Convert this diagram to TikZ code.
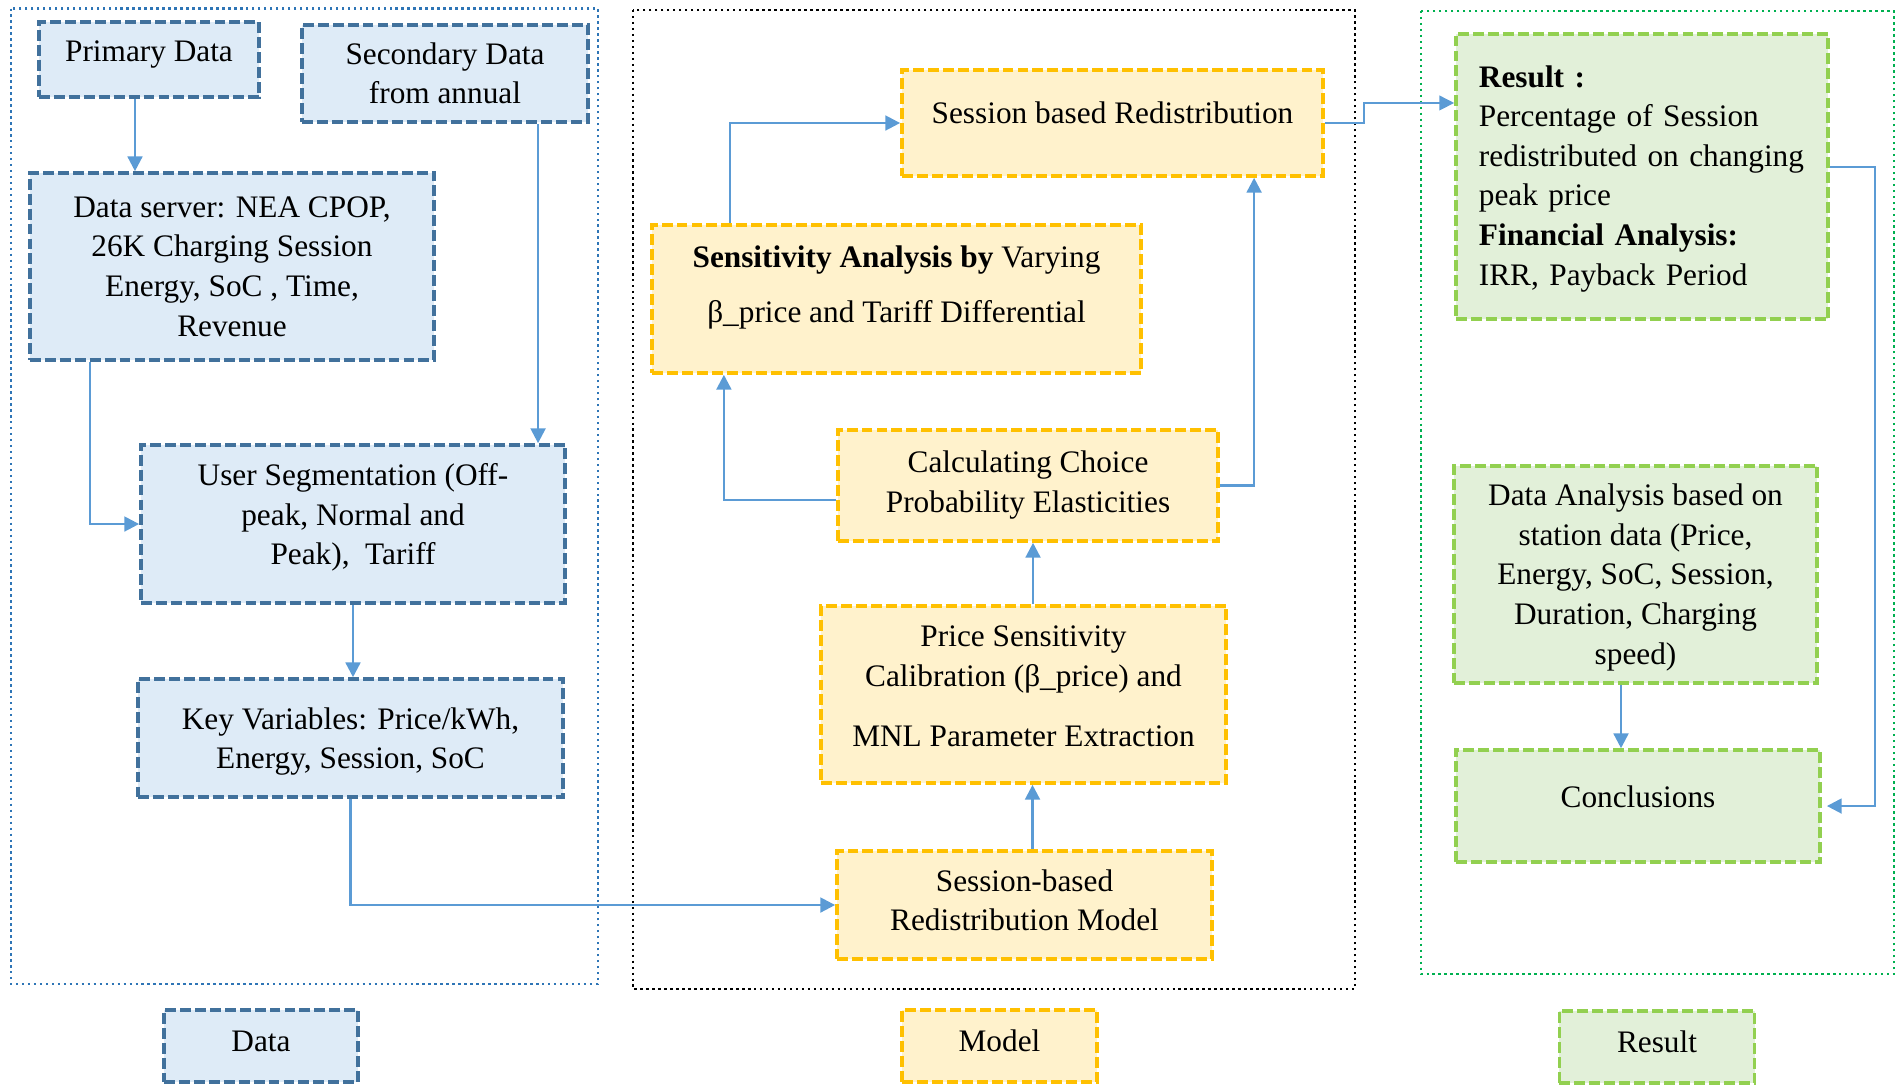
\documentclass[tikz,border=0pt]{standalone}
\usepackage{fontspec}
\setmainfont{Liberation Serif}
\usetikzlibrary{arrows.meta}

\definecolor{dataline}{RGB}{65,113,156}
\definecolor{datafill}{RGB}{222,235,247}
\definecolor{modelline}{RGB}{255,192,0}
\definecolor{modelfill}{RGB}{255,242,204}
\definecolor{resline}{RGB}{146,208,80}
\definecolor{resfill}{RGB}{226,240,217}
\definecolor{flowblue}{RGB}{91,155,213}
\definecolor{frameblue}{RGB}{46,117,182}
\definecolor{framegreen}{RGB}{0,176,80}

\begin{document}
\begin{tikzpicture}[x=0.01cm, y=-0.01cm, font=\fontsize{8.9}{11.25}\selectfont,
  blk/.style={draw, line width=1pt, dash pattern=on 3.1pt off 1.15pt, align=center},
  databox/.style={blk, draw=dataline, fill=datafill},
  modelbox/.style={blk, draw=modelline, fill=modelfill},
  resbox/.style={blk, draw=resline, fill=resfill},
  frame/.style={line width=0.6pt, dash pattern=on 0.7pt off 1pt},
  arr/.style={draw=flowblue, line width=0.7pt, -{Triangle[length=4.2pt,width=4.2pt]}},
  arrthin/.style={arr, line width=0.4pt}]
  \useasboundingbox (0,0) rectangle (1901,1084);

  % group frames
  \draw[frame, frameblue] (11,8.5) rectangle (598,984);
  \draw[frame, black] (633,10) rectangle (1355,989);
  \draw[frame, framegreen] (1421,11) rectangle (1894,974);

  % data column
  \node[databox, minimum width=2.2cm, minimum height=0.75cm, text depth=0.16cm] (prim) at (149,59.5) {Primary Data};
  \node[databox, minimum width=2.86cm, minimum height=0.97cm] (sec) at (445,73.5) {Secondary Data\\from annual};
  \node[databox, minimum width=4.04cm, minimum height=1.87cm] (server) at (232,266.5)
    {Data server: NEA CPOP,\\26K Charging Session\\Energy, SoC , Time,\\Revenue};
  \node[databox, minimum width=4.24cm, minimum height=1.58cm, text depth=0.2cm] (useg) at (353,524)
    {User Segmentation (Off-\\peak, Normal and\\Peak),\ \ Tariff};
  \node[databox, minimum width=4.25cm, minimum height=1.18cm, text depth=0cm] (keyv) at (350.5,738)
    {Key Variables: Price/kWh,\\Energy, Session, SoC};

  % model column
  \node[modelbox, minimum width=4.21cm, minimum height=1.06cm, text depth=0.2cm] (sbr) at (1112.5,123)
    {Session based Redistribution};
  \node[modelbox, minimum width=4.89cm, minimum height=1.48cm, text depth=0.3cm] (sens) at (896.5,299)
    {\textbf{Sensitivity Analysis by} Varying\\[0.15cm]β\_price and Tariff Differential};
  \node[modelbox, minimum width=3.8cm, minimum height=1.11cm, text depth=0.08cm] (calc) at (1028,485.5)
    {Calculating Choice\\Probability Elasticities};
  \node[modelbox, minimum width=4.05cm, minimum height=1.77cm, text depth=0.16cm] (price) at (1023.5,694.5)
    {Price Sensitivity\\Calibration (β\_price) and\\[0.21cm]MNL Parameter Extraction};
  \node[modelbox, minimum width=3.75cm, minimum height=1.08cm, text depth=0.1cm] (sbrm) at (1024.5,905)
    {Session-based\\Redistribution Model};

  % result column
  \node[resbox, align=left, text width=3.26cm, inner xsep=0.23cm, minimum height=2.85cm, text height=0.26cm] (res) at (1642,176.5)
    {\textbf{Result :}\\Percentage of Session\\redistributed on changing\\peak price\\\textbf{Financial Analysis:}\\IRR, Payback Period};
  \node[resbox, minimum width=3.63cm, minimum height=2.17cm, text depth=0.01cm] (dana) at (1635.5,574.5)
    {Data Analysis based on\\station data (Price,\\Energy, SoC, Session,\\Duration, Charging\\speed)};
  \node[resbox, minimum width=3.64cm, minimum height=1.12cm, text depth=0.18cm] (concl) at (1638,806) {Conclusions};

  % legend
  \node[databox, minimum width=1.94cm, minimum height=0.72cm, text depth=0.1cm] (legd) at (261,1046) {Data};
  \node[modelbox, minimum width=1.95cm, minimum height=0.72cm, text depth=0.1cm] (legm) at (999.5,1046) {Model};
  \node[resbox, minimum width=1.95cm, minimum height=0.72cm, text depth=0.1cm] (legr) at (1657,1047) {Result};

  % connectors
  \draw[arr] ([xshift=-0.14cm]prim.south) -- ([xshift=-0.14cm]prim.south |- server.north);
  \draw[arr] ([xshift=0.93cm]sec.south) -- ([xshift=0.93cm]sec.south |- useg.north);
  \draw[arr] ([xshift=-1.42cm]server.south) |- (useg.west);
  \draw[arr] (useg.south) -- (useg.south |- keyv.north);
  \draw[arr] (keyv.south) |- (sbrm.west);
  \draw[arr] ([xshift=0.08cm]sbrm.north) -- ([xshift=0.08cm]sbrm.north |- price.south);
  \draw[arr] ([xshift=0.095cm]price.north) -- ([xshift=0.095cm]price.north |- calc.south);
  \draw[arr] ([yshift=-0.145cm]calc.west) -| ([xshift=-1.725cm]sens.south);
  \draw[arr] (calc.east) -| ([xshift=1.415cm]sbr.south);
  \draw[arr] ([xshift=-1.665cm]sens.north) |- (sbr.west);
  \draw[arrthin] (sbr.east) -- ++(39,0) |- ([yshift=0.735cm]res.west);
  \draw[arr] ([yshift=0.095cm]res.east) -- ++(45,0) |- ([xshift=0.05cm]concl.east);
  \draw[arr] ([xshift=-0.145cm]dana.south) -- ([xshift=-0.145cm]dana.south |- concl.north);
\end{tikzpicture}
\end{document}
